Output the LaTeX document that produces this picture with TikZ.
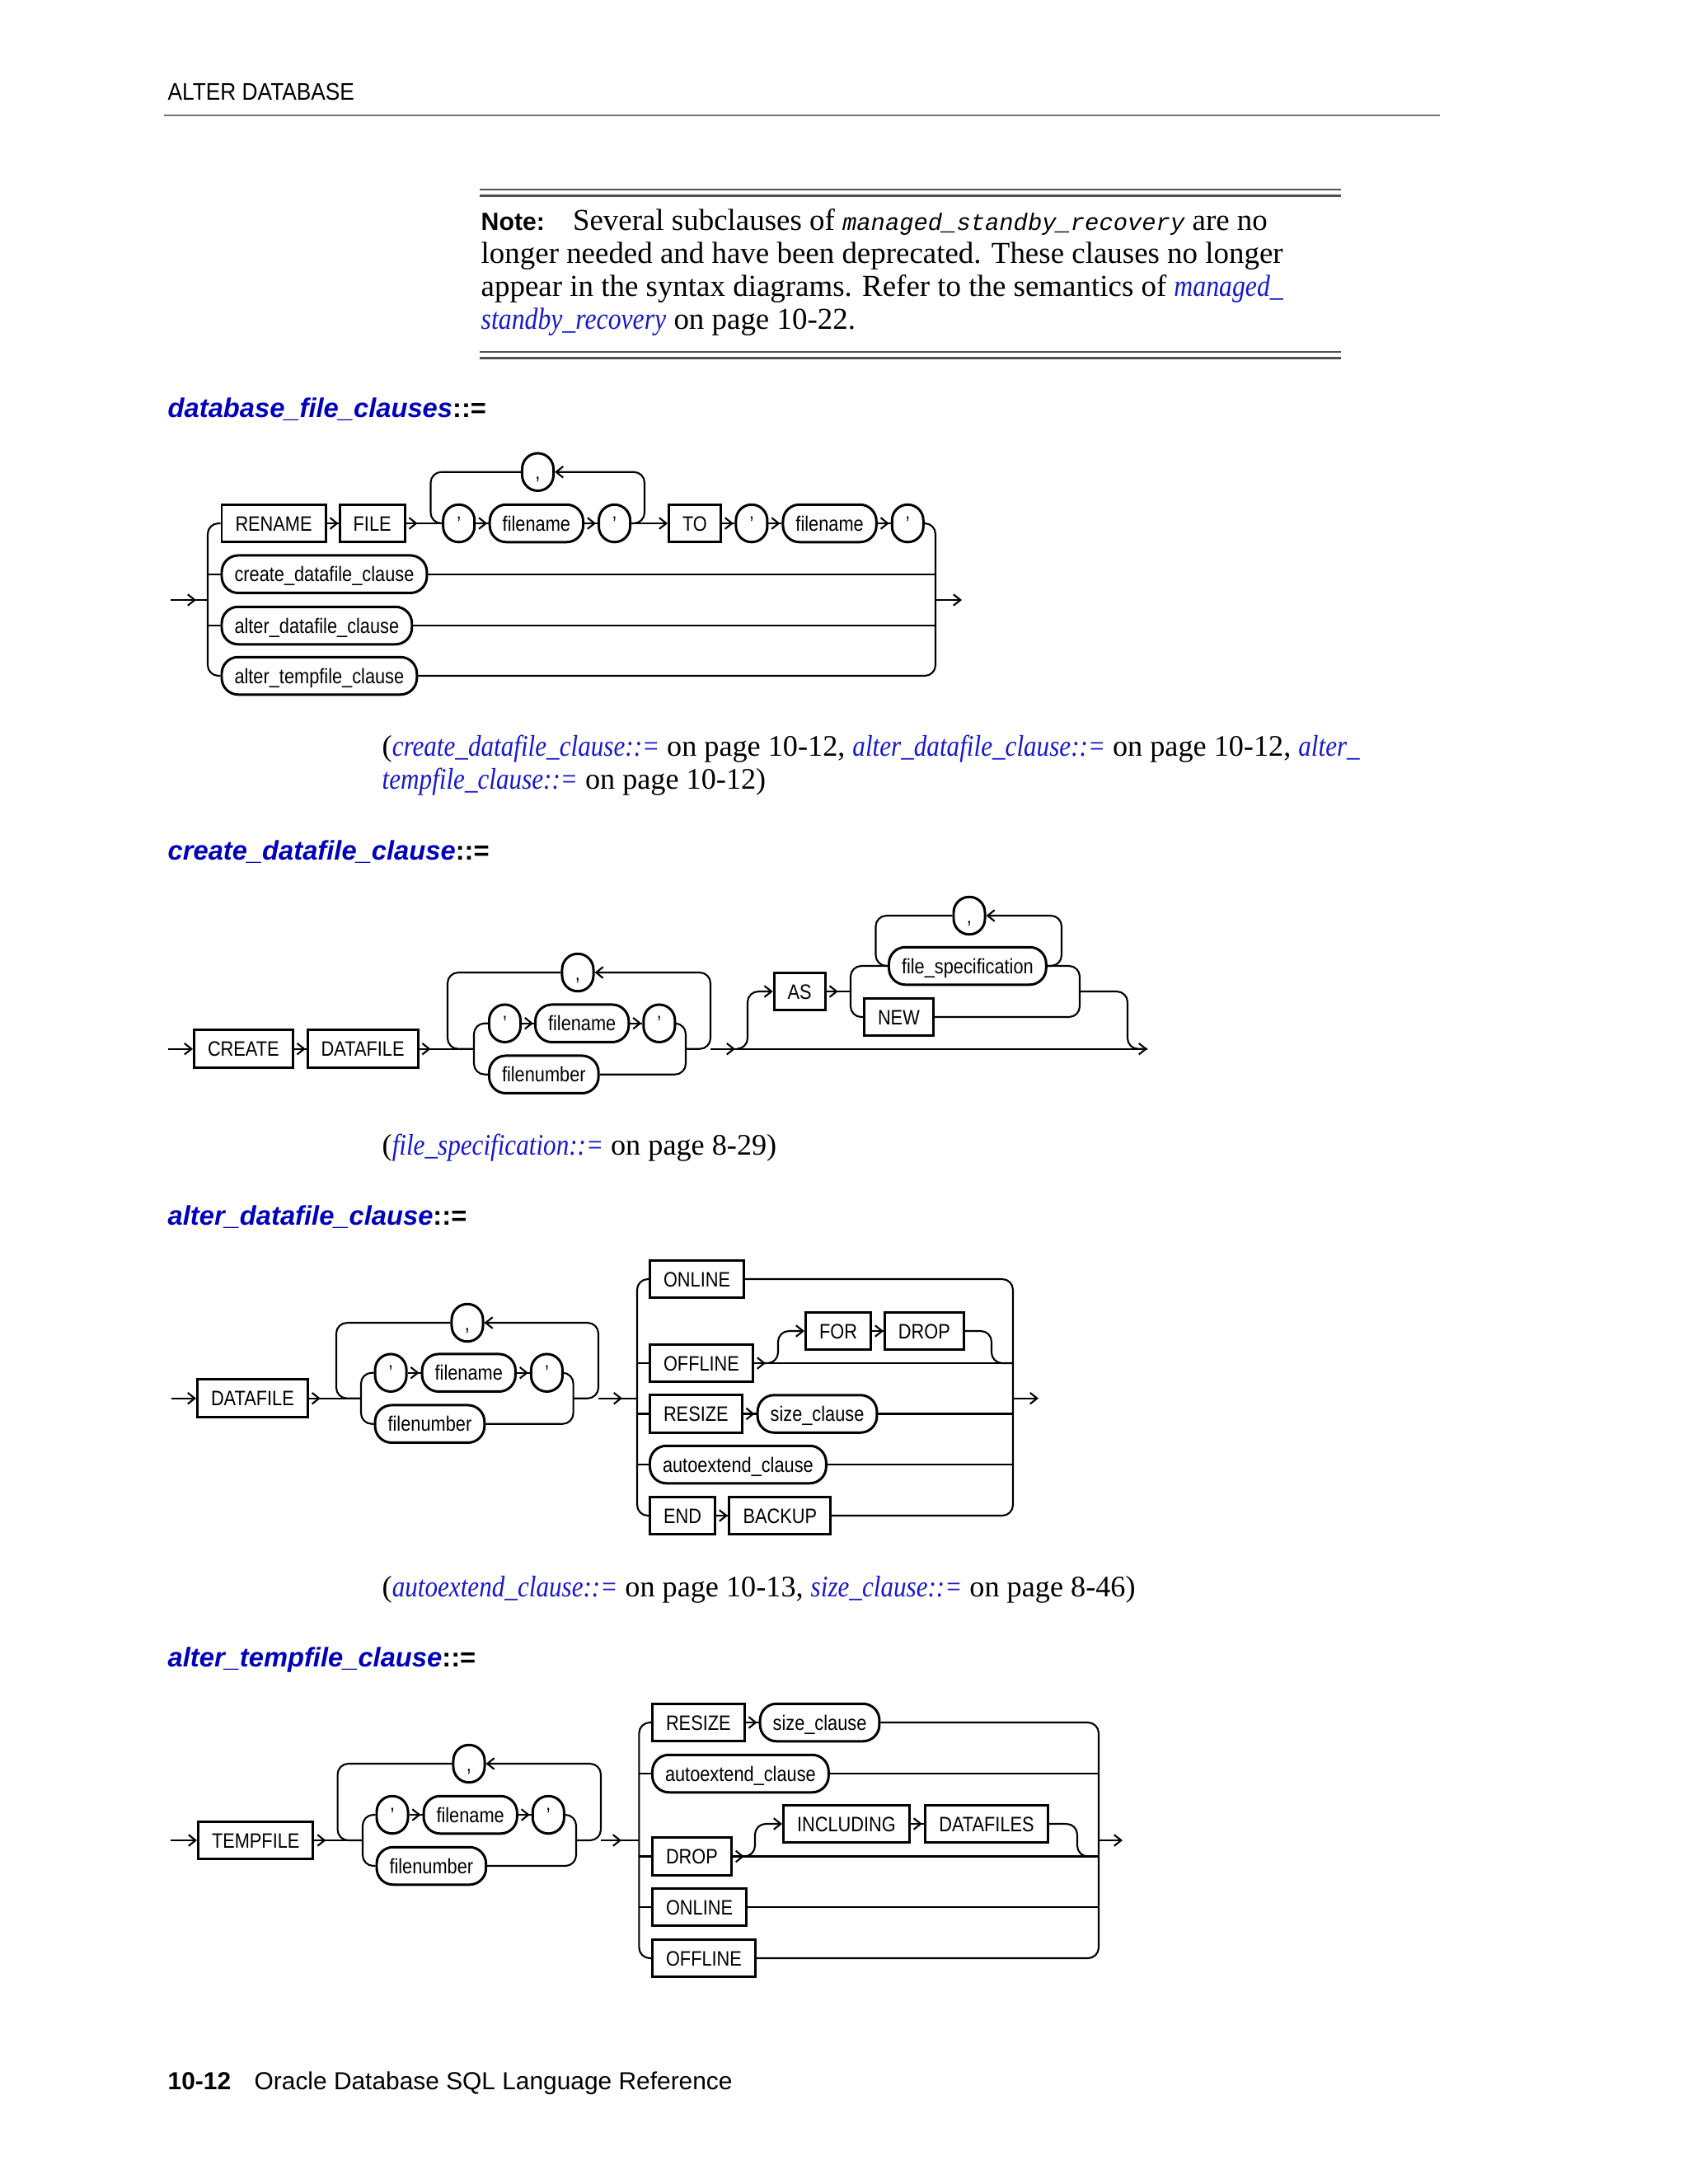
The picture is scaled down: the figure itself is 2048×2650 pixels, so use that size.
\documentclass[tikz,border=0pt]{standalone}
\usepackage{fontspec}
\usepackage{xcolor}
\usepackage{tikz}
\usetikzlibrary{
  arrows.meta,
  decorations.markings,
  positioning
}
\setmainfont{Liberation Serif}[ItalicFeatures={FakeStretch=0.86}]
\newfontfamily\rrfont{Liberation Sans}[FakeStretch=0.86]
\newfontfamily\hdfont{Liberation Sans}[FakeStretch=0.9]
\newfontfamily\pagesans{Liberation Sans}
\newfontfamily\codefont{Liberation Mono}
\definecolor{linkblue}{RGB}{24,24,204}
\definecolor{headblue}{RGB}{0,0,186}
\definecolor{rulegray}{RGB}{80,80,80}
\tikzset{
  >={Straight Barb[length=0.85mm,width=1.35mm]},
  kw/.style={draw,line width=0.85pt,rectangle,minimum height=0.455cm,
    inner xsep=0.165cm,inner ysep=0pt,text height=5.2pt,text depth=0pt,
    font=\rrfont\fontsize{7.2}{8}\selectfont},
  nt/.style={kw,rounded corners=0.2cm,inner xsep=0.155cm},
  sym/.style={kw,rounded corners=0.19cm,minimum width=0.38cm,inner xsep=0pt},
  wire/.style={line width=0.6pt,rounded corners=0.13cm},
  tipat/.style={postaction={decorate},
    decoration={markings,mark=at position #1 with {\arrow{>}}}},
  flow/.style={wire,tipat=0.14cm},
  txt/.style={inner sep=0pt,anchor=base west,font=\fontsize{10.5}{12}\selectfont},
  captxt/.style={txt,font=\fontsize{10.3}{12}\selectfont},
  head/.style={inner sep=0pt,anchor=base west,
    font=\pagesans\bfseries\fontsize{9.3}{11}\selectfont},
  noterule/.style={line width=0.75pt,draw=rulegray}
}
\newcommand{\lnk}[1]{\textcolor{linkblue}{\textit{#1}}}

\begin{document}
\begin{tikzpicture}[x=0.01cm,y=-0.01cm]
  \useasboundingbox (0,0) rectangle (2048,2650);
  \fill[white] (0,0) rectangle (2048,2650);

  % running head and note
  \node[inner sep=0pt,anchor=base west,font=\hdfont\fontsize{8.3}{10}\selectfont]
    (runhead) at (203,121) {ALTER DATABASE};
  \draw[line width=0.5pt,black!55] (199,140) -- (1747,140);
  \foreach \y in {230,237.5,427,434.5}
    \draw[noterule] (582,\y) -- (1627,\y);
  \node[txt] (note1) at (583,279) {{\pagesans\bfseries\fontsize{8.6}{10}\selectfont
    Note:}\hspace{0.34cm}Several subclauses of
    {\codefont\itshape\fontsize{8.2}{10}\selectfont managed\_standby\_recovery} are no};
  \node[txt] (note2) at (583,319) {longer needed and have been deprecated. These clauses no longer};
  \node[txt] (note3) at (583,359) {appear in the syntax diagrams. Refer to the semantics of \lnk{managed\_}};
  \node[txt] (note4) at (583,399) {\lnk{standby\_recovery} on page 10-22.};

  % database_file_clauses
  \node[head] (h1) at (203,506.7) {\textcolor{headblue}{\itshape database\_file\_clauses}::=};
  \coordinate (d1in) at (207,728);
  \coordinate (d1l) at (252,728);
  \coordinate (d1r) at (1135,728);
  \coordinate (d1out) at (1167,728);
  \node[kw,anchor=west] (rename) at (267.5,635) {RENAME};
  \node[kw,right=0.14cm of rename] (file) {FILE};
  \node[sym,right=0.435cm of file] (qa1) {’};
  \node[nt,right=0.155cm of qa1] (fna1) {filename};
  \node[sym,right=0.16cm of fna1] (qb1) {’};
  \node[kw,right=0.44cm of qb1] (to) {TO};
  \node[sym,right=0.155cm of to] (qc1) {’};
  \node[nt,right=0.16cm of qc1] (fnb1) {filename};
  \node[sym,right=0.16cm of fnb1] (qd1) {’};
  \node[sym] (cm1) at (652.5,572.7) {,};
  \coordinate (lp1l) at (522.5,635);
  \coordinate (lp1r) at (782,572.7);
  \node[nt,anchor=west] (cdc) at (267.5,696.7) {create\_datafile\_clause};
  \node[nt,anchor=west] (adc) at (267.5,759) {alter\_datafile\_clause};
  \node[nt,anchor=west] (atc) at (267.5,820) {alter\_tempfile\_clause};

  \draw[wire,tipat=0.31cm] (d1in) -- (d1l);
  \draw[wire] (rename.west) -| (d1l) |- (atc.west);
  \foreach \x in {cdc,adc}
    \draw[wire] (d1l |- \x.west) -- (\x.west);
  \draw[flow] (rename) -- (file);
  \draw[flow] (file) -- (qa1);
  \draw[flow] (qa1) -- (fna1);
  \draw[flow] (fna1) -- (qb1);
  \draw[wire,->] (qb1) -- (to);
  \draw[wire,->] (qb1.east) -| (lp1r) -- (cm1.east);
  \draw[wire] (cm1.west) -| (lp1l) -- (qa1.west);
  \draw[flow] (to) -- (qc1);
  \draw[flow] (qc1) -- (fnb1);
  \draw[flow] (fnb1) -- (qd1);
  \draw[wire] (qd1.east) -| (d1r) |- (atc.east);
  \foreach \x in {cdc,adc}
    \draw[wire] (\x.east) -- (d1r |- \x.east);
  \draw[wire,->] (d1r) -- (d1out);

  \node[captxt] (cap1a) at (463,917) {(\lnk{create\_datafile\_clause::=} on page 10-12,
    \lnk{alter\_datafile\_clause::=} on page 10-12, \lnk{alter\_}};
  \node[captxt] (cap1b) at (463,957) {\lnk{tempfile\_clause::=} on page 10-12)};

  % create_datafile_clause
  \node[head] (h2) at (203,1043) {\textcolor{headblue}{\itshape create\_datafile\_clause}::=};
  \coordinate (d2in) at (204,1272.7);
  \node[kw,anchor=west] (create) at (234,1272.7) {CREATE};
  \node[kw,right=0.15cm of create] (dfa) {DATAFILE};
  \coordinate (lp2l) at (543,1272.7);
  \coordinate (ch2l) at (575,1272.7);
  \node[sym,anchor=west] (qa2) at (592,1241.7) {’};
  \node[nt,right=0.15cm of qa2] (fna2) {filename};
  \node[sym,right=0.15cm of fna2] (qb2) {’};
  \node[nt,anchor=west] (fnum2) at (592,1303.7) {filenumber};
  \coordinate (ch2r) at (832,1272.7);
  \coordinate (lp2r) at (862,1180);
  \coordinate (lp2b) at (862,1272.7);
  \node[sym] (cm2) at (701,1180) {,};
  \coordinate (d2out) at (1392,1272.7);
  \coordinate (by2a) at (894,1272.7);
  \coordinate (by2b) at (907,1203);
  \node[kw,anchor=west] (as) at (937.7,1203) {AS};
  \coordinate (ch2c) at (1032,1203);
  \node[nt,anchor=west] (fspec) at (1077,1172) {file\_specification};
  \node[kw,anchor=west] (new) at (1047,1234) {NEW};
  \node[sym] (cm3) at (1176,1111) {,};
  \coordinate (lp3r) at (1288,1111);
  \coordinate (lp3l) at (1062.5,1172);
  \coordinate (ch2d) at (1310,1203);
  \coordinate (by2c) at (1368,1272.7);

  \draw[wire,->] (d2in) -- (create);
  \draw[flow] (create) -- (dfa);
  \draw[flow] (dfa) -- (ch2l);
  \draw[wire] (qa2.west) -| (ch2l) |- (fnum2.west);
  \draw[flow] (qa2) -- (fna2);
  \draw[flow] (fna2) -- (qb2);
  \draw[wire] (qb2.east) -| (ch2r) |- (fnum2.east);
  \draw[wire,->] (ch2r) -| (lp2r) -- (cm2.east);
  \draw[wire] (cm2.west) -| (lp2l) -- (ch2l);
  \draw[wire,tipat=0.3cm,->] (lp2b) -- (d2out);
  \draw[wire,->] (by2a) -| (by2b) -- (as.west);
  \draw[flow] (as) -- (ch2c);
  \draw[wire] (fspec.west) -| (ch2c) |- (new.west);
  \draw[wire] (fspec.east) -| (ch2d) |- (new.east);
  \draw[wire,->] (fspec.east) -| (lp3r) -- (cm3.east);
  \draw[wire] (cm3.west) -| (lp3l) -- (fspec.west);
  \draw[wire] (ch2d) -| (by2c) -- (d2out);

  \node[captxt] (cap2) at (463,1401) {(\lnk{file\_specification::=} on page 8-29)};

  % alter_datafile_clause
  \node[head] (h3) at (203,1486) {\textcolor{headblue}{\itshape alter\_datafile\_clause}::=};
  \coordinate (d3in) at (208,1696.7);
  \node[kw,anchor=west] (dfb) at (238,1696.7) {DATAFILE};
  \coordinate (lp4l) at (408,1696.7);
  \coordinate (ch3l) at (438,1696.7);
  \node[sym,anchor=west] (qa3) at (453.6,1665.7) {’};
  \node[nt,right=0.16cm of qa3] (fna3) {filename};
  \node[sym,right=0.16cm of fna3] (qb3) {’};
  \node[nt,anchor=west] (fnum3) at (453.6,1727.7) {filenumber};
  \coordinate (ch3r) at (695.6,1696.7);
  \coordinate (lp4r) at (726,1605);
  \coordinate (lp4b) at (726,1696.7);
  \node[sym] (cm4) at (567,1605) {,};
  \coordinate (r3l) at (773,1696.7);
  \coordinate (r3r) at (1229,1696.7);
  \coordinate (d3out) at (1260,1696.7);
  \node[kw,anchor=west] (onl3) at (787,1552) {ONLINE};
  \node[kw,anchor=west] (off3) at (787,1654) {OFFLINE};
  \node[kw,anchor=west] (for) at (976,1615) {FOR};
  \node[kw,right=0.14cm of for] (drop3) {DROP};
  \node[kw,anchor=west] (rsz3) at (787,1715.5) {RESIZE};
  \node[nt,right=0.16cm of rsz3] (size3) {size\_clause};
  \node[nt,anchor=west] (auto3) at (787,1777) {autoextend\_clause};
  \node[kw,anchor=west] (end) at (787,1839) {END};
  \node[kw,right=0.145cm of end] (backup) {BACKUP};
  \coordinate (by3a) at (927,1654);
  \coordinate (by3b) at (944,1615);
  \coordinate (by3c) at (1203,1654);

  \draw[wire,->] (d3in) -- (dfb);
  \draw[flow] (dfb) -- (ch3l);
  \draw[wire] (qa3.west) -| (ch3l) |- (fnum3.west);
  \draw[flow] (qa3) -- (fna3);
  \draw[flow] (fna3) -- (qb3);
  \draw[wire] (qb3.east) -| (ch3r) |- (fnum3.east);
  \draw[wire,->] (ch3r) -| (lp4r) -- (cm4.east);
  \draw[wire] (cm4.west) -| (lp4l) -- (ch3l);
  \draw[wire,tipat=0.29cm] (lp4b) -- (r3l);
  \draw[wire] (onl3.west) -| (r3l) |- (end.west);
  \foreach \x in {off3,rsz3,auto3}
    \draw[wire] (r3l |- \x.west) -- (\x.west);
  \draw[wire] (onl3.east) -| (r3r) |- (backup.east);
  \draw[flow] (off3.east) -- (r3r |- off3.east);
  \draw[wire,->] (by3a) -| (by3b) -- (for.west);
  \draw[flow] (for) -- (drop3);
  \draw[wire] (drop3.east) -| (by3c) -- (r3r |- off3.east);
  \draw[flow] (rsz3) -- (size3);
  \foreach \x in {size3,auto3}
    \draw[wire] (\x.east) -- (r3r |- \x.east);
  \draw[flow] (end) -- (backup);
  \draw[wire,->] (r3r) -- (d3out);

  \node[captxt] (cap3) at (463,1937) {(\lnk{autoextend\_clause::=} on page 10-13,
    \lnk{size\_clause::=} on page 8-46)};

  % alter_tempfile_clause
  \node[head] (h4) at (203,2022) {\textcolor{headblue}{\itshape alter\_tempfile\_clause}::=};
  \coordinate (d4in) at (207,2233);
  \node[kw,anchor=west] (tmpf) at (239,2233) {TEMPFILE};
  \coordinate (lp5l) at (409.6,2233);
  \coordinate (ch4l) at (440,2233);
  \node[sym,anchor=west] (qa4) at (455.5,2202) {’};
  \node[nt,right=0.16cm of qa4] (fna4) {filename};
  \node[sym,right=0.16cm of fna4] (qb4) {’};
  \node[nt,anchor=west] (fnum4) at (455.5,2264) {filenumber};
  \coordinate (ch4r) at (699,2233);
  \coordinate (lp5r) at (729,2140);
  \coordinate (lp5b) at (729,2233);
  \node[sym] (cm5) at (569,2140) {,};
  \coordinate (r4l) at (775.4,2233);
  \coordinate (r4r) at (1333,2233);
  \coordinate (d4out) at (1362,2233);
  \node[kw,anchor=west] (rsz4) at (790,2090) {RESIZE};
  \node[nt,right=0.16cm of rsz4] (size4) {size\_clause};
  \node[nt,anchor=west] (auto4) at (790,2152) {autoextend\_clause};
  \node[kw,anchor=west] (drop4) at (790,2252.5) {DROP};
  \node[kw,anchor=west] (incl) at (949,2213) {INCLUDING};
  \node[kw,right=0.165cm of incl] (dfs) {DATAFILES};
  \node[kw,anchor=west] (onl4) at (790,2314) {ONLINE};
  \node[kw,anchor=west] (off4) at (790,2376) {OFFLINE};
  \coordinate (by4a) at (902,2252.5);
  \coordinate (by4b) at (916,2213);
  \coordinate (by4c) at (1307,2252.5);

  \draw[wire,->] (d4in) -- (tmpf);
  \draw[flow] (tmpf) -- (ch4l);
  \draw[wire] (qa4.west) -| (ch4l) |- (fnum4.west);
  \draw[flow] (qa4) -- (fna4);
  \draw[flow] (fna4) -- (qb4);
  \draw[wire] (qb4.east) -| (ch4r) |- (fnum4.east);
  \draw[wire,->] (ch4r) -| (lp5r) -- (cm5.east);
  \draw[wire] (cm5.west) -| (lp5l) -- (ch4l);
  \draw[wire,tipat=0.25cm] (lp5b) -- (r4l);
  \draw[wire] (rsz4.west) -| (r4l) |- (off4.west);
  \foreach \x in {auto4,drop4,onl4}
    \draw[wire] (r4l |- \x.west) -- (\x.west);
  \draw[flow] (rsz4) -- (size4);
  \draw[wire] (size4.east) -| (r4r) |- (off4.east);
  \draw[flow] (drop4.east) -- (r4r |- drop4.east);
  \draw[wire,->] (by4a) -| (by4b) -- (incl.west);
  \draw[flow] (incl) -- (dfs);
  \draw[wire] (dfs.east) -| (by4c) -- (r4r |- drop4.east);
  \foreach \x in {auto4,onl4}
    \draw[wire] (\x.east) -- (r4r |- \x.east);
  \draw[wire,->] (r4r) -- (d4out);

  % folio
  \node[inner sep=0pt,anchor=base west,font=\pagesans\bfseries\fontsize{8.5}{10}\selectfont]
    (folio) at (203,2535) {10-12};
  \node[inner sep=0pt,anchor=base west,font=\pagesans\fontsize{8.5}{10}\selectfont]
    (foot) at (308,2535) {Oracle Database SQL Language Reference};
\end{tikzpicture}
\end{document}
